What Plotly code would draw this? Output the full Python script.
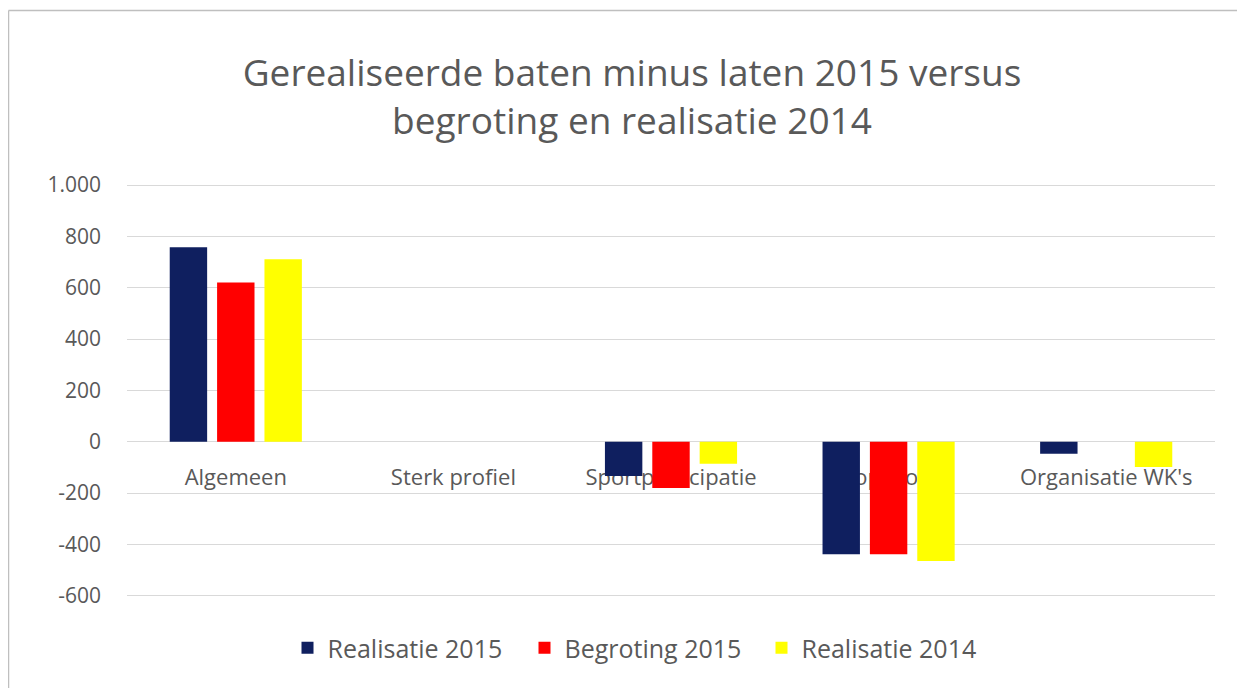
import plotly.graph_objects as go

categories = ["Algemeen", "Sterk profiel", "Sportparticipatie", "Topsport", "Organisatie WK's"]
series_names = ["Realisatie 2015", "Begroting 2015", "Realisatie 2014"]
realisatie_2015 = [758, 0, -133, -438, -47]
begroting_2015 = [621, 0, -180, -438, 0]
realisatie_2014 = [711, 0, -86, -465, -98]
series_colors = ["#0f1f5f", "#ff0000", "#ffff00"]

tick_vals = [-600, -400, -200, 0, 200, 400, 600, 800, 1000]
tick_text = ["-600", "-400", "-200", "0", "200", "400", "600", "800", "1.000"]
y_min, y_max = -640, 1020

txt = "#595959"
font_family = "Open Sans, Lato, sans-serif"

fig = go.Figure()
for name, vals, col in zip(series_names, [realisatie_2015, begroting_2015, realisatie_2014], series_colors):
    fig.add_trace(go.Bar(x=categories, y=vals, name=name, marker=dict(color=col, line=dict(width=0))))

# page body has an 8px margin; figure sized to fit the 1245x688 window
W, H = 1237, 680
ml, mr, mt, mb = 119, 30, 172, 82
pw = W - ml - mr
ph = H - mt - mb

def px(fx):
    return (fx - ml) / pw

def py(fy):
    return (mt + ph - fy) / ph

fig.update_layout(
    width=W, height=H,
    margin=dict(l=ml, r=mr, t=mt, b=mb),
    paper_bgcolor="white", plot_bgcolor="white",
    barmode="group", bargap=0.347, bargroupgap=0.21,
    title=dict(
        text="Gerealiseerde baten minus laten 2015 versus<br>begroting en realisatie 2014",
        x=px(632 - 8), xanchor="center", xref="paper",
        y=1 - (86 - 8) / H, yanchor="middle",
        font=dict(family=font_family, size=37, color=txt),
    ),
    font=dict(family=font_family, color=txt),
    showlegend=True,
    legend=dict(
        orientation="h", x=px(643 - 8), xanchor="center", y=py(648 - 8), yanchor="middle",
        font=dict(size=25, color=txt), itemwidth=30, traceorder="normal",
        entrywidth=192, entrywidthmode="pixels", bgcolor="rgba(0,0,0,0)",
    ),
    xaxis=dict(
        anchor="free", position=(0 - y_min) / (y_max - y_min),
        showline=False, ticks="", showgrid=False, layer="below traces",
        tickfont=dict(size=22, color=txt), ticklabelstandoff=20,
    ),
    yaxis=dict(
        range=[y_min, y_max], tickvals=tick_vals, ticktext=tick_text,
        showgrid=True, gridcolor="#d9d9d9", gridwidth=1,
        zeroline=True, zerolinecolor="#d9d9d9", zerolinewidth=1,
        showline=False, ticks="", tickfont=dict(size=21, color=txt), ticklabelstandoff=25,
    ),
)

# chart frame: top and left edges
fig.add_shape(type="line", xref="paper", yref="paper",
              x0=px(0.5), x1=px(W), y0=py(2.5), y1=py(2.5),
              line=dict(color="#bfbfbf", width=1.5), layer="below")
fig.add_shape(type="line", xref="paper", yref="paper",
              x0=px(0.5), x1=px(0.5), y0=py(2.5), y1=py(H),
              line=dict(color="#bfbfbf", width=1.5), layer="below")

fig.write_html("out.html")
